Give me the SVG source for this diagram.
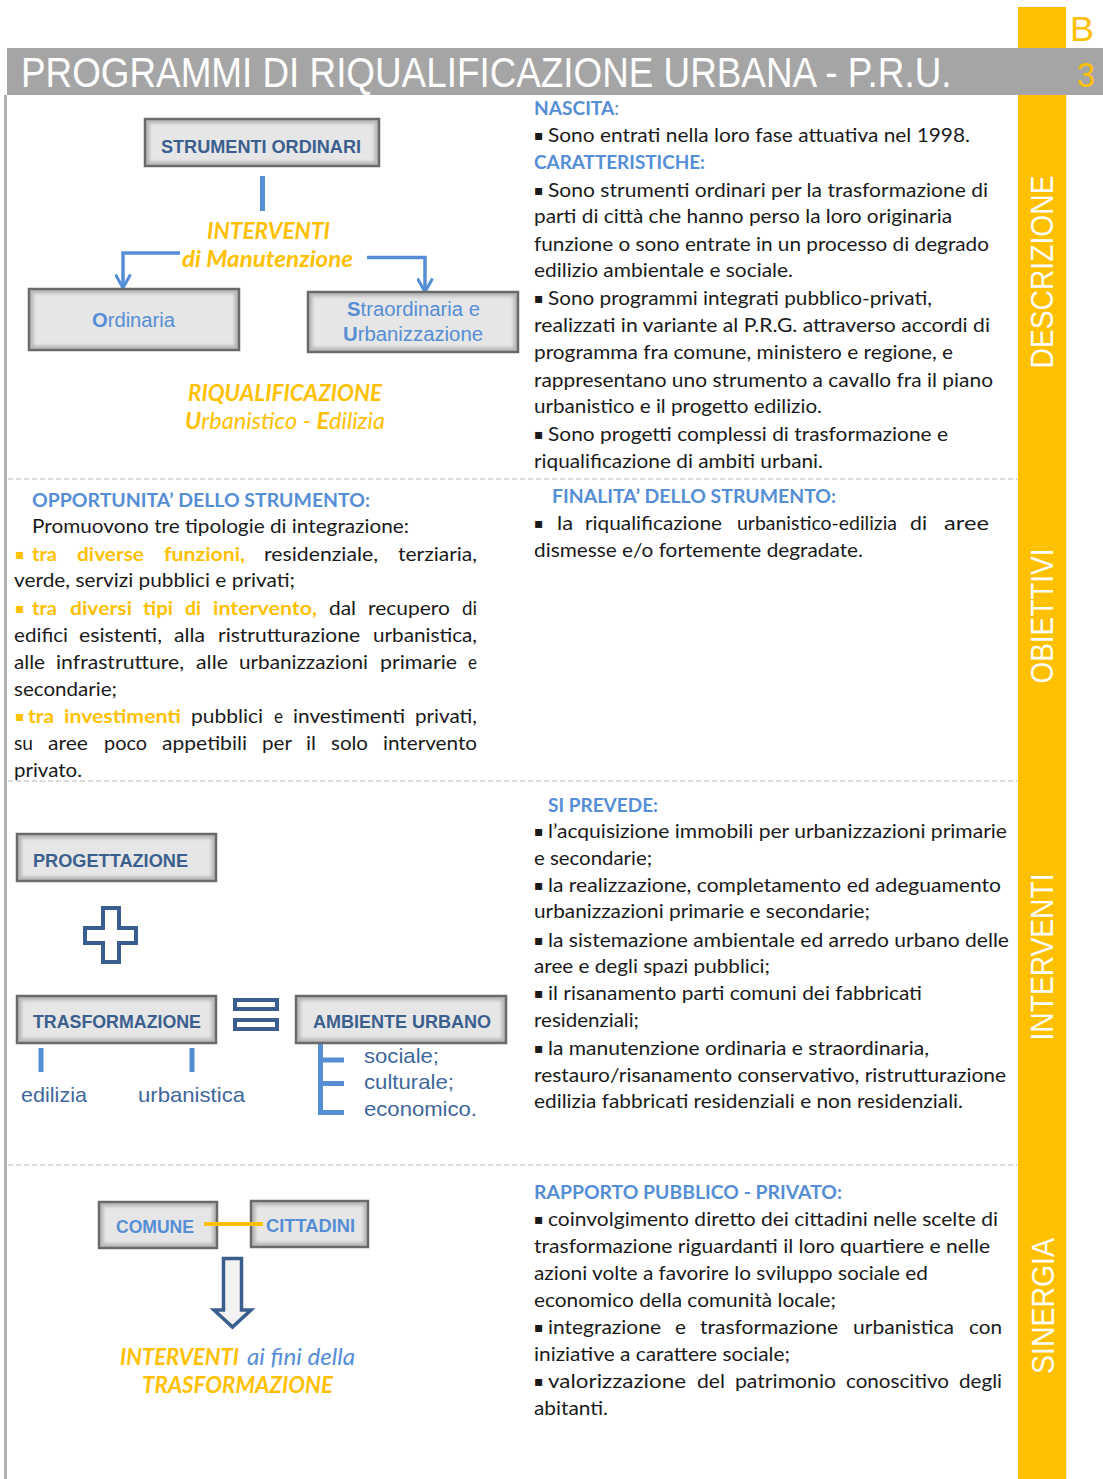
<svg xmlns="http://www.w3.org/2000/svg" width="1103" height="1479" viewBox="0 0 1103 1479">
<defs>
<filter id="soft" x="-10%" y="-30%" width="120%" height="160%"><feGaussianBlur stdDeviation="1.8"/></filter>
<marker id="chev" markerUnits="userSpaceOnUse" viewBox="0 0 17 17" refX="15" refY="8.5" markerWidth="17" markerHeight="17" orient="auto">
<path d="M1.5,1 L15,8.5 L1.5,16" fill="none" stroke="#558ED5" stroke-width="3"/>
</marker>
</defs>
<style>
.t{font-family:Lato,"Open Sans","DejaVu Sans",sans-serif;font-size:19px;fill:#1a1a1a}
.h{font-family:Lato,"Open Sans",sans-serif;font-size:19px;font-weight:bold;fill:#558ED5}
.yb{font-family:Lato,"Open Sans",sans-serif;font-size:19px;font-weight:bold;fill:#FFC000}
.b{font-family:"DejaVu Sans",sans-serif;font-size:14px;fill:#1a1a1a}
.by{font-family:"DejaVu Sans",sans-serif;font-size:14px;fill:#FFC000}
.bo{fill:#b8b8b8;stroke:#6a6a6a;stroke-width:2.5}
.bi{fill:#e6e6e6;filter:url(#soft)}
.lb{font-family:"Liberation Sans",Arial,sans-serif;font-weight:bold;font-size:18px;fill:#3a5f8f}
.lb2{font-family:"Liberation Sans",Arial,sans-serif;font-weight:bold;font-size:18px;fill:#558ED5}
.lr{font-family:"Liberation Sans",Arial,sans-serif;font-size:20px;fill:#558ED5}
.sub{font-family:"Liberation Sans",Arial,sans-serif;font-size:21px;fill:#3f679c}
.yi{font-family:Lato,"Open Sans",sans-serif;font-size:23px;font-style:italic;font-weight:bold;fill:#FFC000}
.side{font-family:"Liberation Sans",Arial,sans-serif;font-size:31px;fill:#fdfdfd}
.con{fill:none;stroke:#558ED5;stroke-width:3.5}
.sym{fill:none;stroke:#3a5f8f;stroke-width:4}
.sep{stroke:#cfcfcf;stroke-width:1.5;stroke-dasharray:5 3}
</style>
<rect width="1103" height="1479" fill="#ffffff"/>
<!-- sidebar -->
<rect x="1018" y="7" width="48" height="1472" fill="#FFC000"/>
<line x1="1066.5" y1="95" x2="1066.5" y2="1479" stroke="#f3e9d0" stroke-width="1"/>
<!-- header -->
<rect x="7" y="48" width="1096" height="47" fill="#a5a5a5"/>
<text transform="translate(21,87) scale(0.877,1)" x="0" y="0" font-family="'Liberation Sans',Arial,sans-serif" font-size="42" fill="#ffffff">PROGRAMMI DI RIQUALIFICAZIONE URBANA - P.R.U.</text>
<text x="1070" y="41" font-family="'Liberation Sans',Arial,sans-serif" font-size="35" fill="#FFC000" textLength="24" lengthAdjust="spacingAndGlyphs">B</text>
<text x="1077" y="87" font-family="'Liberation Sans',Arial,sans-serif" font-size="35" fill="#FFC000" textLength="18" lengthAdjust="spacingAndGlyphs">3</text>
<rect x="4" y="95" width="3" height="1384" fill="#b0b0b0"/>
<!-- separators -->
<line class="sep" x1="8" y1="479" x2="1018" y2="479"/>
<line class="sep" x1="8" y1="781" x2="1018" y2="781"/>
<line class="sep" x1="8" y1="1165" x2="1018" y2="1165"/>
<!-- side labels -->
<text class="side" transform="translate(1053,272) rotate(-90)" text-anchor="middle" textLength="193" lengthAdjust="spacingAndGlyphs">DESCRIZIONE</text>
<text class="side" transform="translate(1053,616) rotate(-90)" text-anchor="middle" textLength="135" lengthAdjust="spacingAndGlyphs">OBIETTIVI</text>
<text class="side" transform="translate(1053,957) rotate(-90)" text-anchor="middle" textLength="167" lengthAdjust="spacingAndGlyphs">INTERVENTI</text>
<text class="side" transform="translate(1054,1306) rotate(-90)" text-anchor="middle" textLength="136" lengthAdjust="spacingAndGlyphs">SINERGIA</text>

<!-- connectors -->
<g id="connectors">
<line x1="262.5" y1="176" x2="262.5" y2="211" stroke="#558ED5" stroke-width="5"/>
<path class="con" d="M180,253 H123 V288" marker-end="url(#chev)"/>
<path class="con" d="M367,257.5 H425 V292" marker-end="url(#chev)"/>
<line x1="41" y1="1048" x2="41" y2="1072" stroke="#558ED5" stroke-width="5"/>
<line x1="192" y1="1048" x2="192" y2="1072" stroke="#558ED5" stroke-width="5"/>
<path d="M320.5,1043 V1112 M318,1060 H344 M318,1083.5 H344 M318,1112.5 H344" fill="none" stroke="#558ED5" stroke-width="5"/>
<path d="M223.5,1258.5 H241.5 V1310 H251 L232.5,1327 L214,1310 H223.5 Z" fill="#f2f2f2" stroke="#3a5f8f" stroke-width="3.5" stroke-linejoin="miter"/>
<line x1="204" y1="1224" x2="263" y2="1224" stroke="#FFC000" stroke-width="4"/>
</g>

<!-- section 1 diagram -->
<g id="n-strumenti">
<rect class="bo" x="145" y="119" width="234" height="47"/><rect class="bi" x="149.5" y="123.5" width="225" height="38"/>
<text class="lb" x="161" y="153" textLength="200" lengthAdjust="spacingAndGlyphs">STRUMENTI ORDINARI</text>
</g>
<g id="n-interventi-manutenzione">
<text class="yi" x="207" y="239" textLength="123" lengthAdjust="spacingAndGlyphs">INTERVENTI</text>
<text class="yi" x="182" y="267" textLength="171" lengthAdjust="spacingAndGlyphs">di Manutenzione</text>
</g>
<g id="n-ordinaria">
<rect class="bo" x="29" y="289" width="210" height="61"/><rect class="bi" x="33.5" y="293.5" width="201" height="52"/>
<text class="lr" x="92" y="327" textLength="83" lengthAdjust="spacingAndGlyphs"><tspan font-weight="bold">O</tspan>rdinaria</text>
</g>
<g id="n-straordinaria">
<rect class="bo" x="308" y="292" width="210" height="60"/><rect class="bi" x="312.5" y="296.5" width="201" height="51"/>
<text class="lr" x="347" y="316" textLength="133" lengthAdjust="spacingAndGlyphs"><tspan font-weight="bold">S</tspan>traordinaria e</text>
<text class="lr" x="343" y="341" textLength="140" lengthAdjust="spacingAndGlyphs"><tspan font-weight="bold">U</tspan>rbanizzazione</text>
</g>
<g id="n-riqualificazione">
<text class="yi" x="188" y="401" textLength="194" lengthAdjust="spacingAndGlyphs">RIQUALIFICAZIONE</text>
<text class="yi" x="185" y="429" textLength="200" lengthAdjust="spacingAndGlyphs"><tspan font-weight="bold">U</tspan><tspan font-weight="normal">rbanistico - </tspan><tspan font-weight="bold">E</tspan><tspan font-weight="normal">dilizia</tspan></text>
</g>

<!-- section 1 text -->
<g id="n-descrizione">
<text class="h" x="534" y="115" textLength="85" lengthAdjust="spacingAndGlyphs">NASCITA<tspan font-weight="normal">:</tspan></text>
<text class="b" x="534" y="140">▪</text>
<text class="t" x="548" y="142" textLength="422" lengthAdjust="spacingAndGlyphs">Sono entrati nella loro fase attuativa nel 1998.</text>
<text class="h" x="534" y="169" textLength="171" lengthAdjust="spacingAndGlyphs">CARATTERISTICHE:</text>
<text class="b" x="534" y="195">▪</text>
<text class="t" x="548" y="197" textLength="440" lengthAdjust="spacingAndGlyphs">Sono strumenti ordinari per la trasformazione di</text>
<text class="t" x="534" y="223" textLength="418" lengthAdjust="spacingAndGlyphs">parti di città che hanno perso la loro originaria</text>
<text class="t" x="534" y="251" textLength="455" lengthAdjust="spacingAndGlyphs">funzione o sono entrate in un processo di degrado</text>
<text class="t" x="534" y="277" textLength="259" lengthAdjust="spacingAndGlyphs">edilizio ambientale e sociale.</text>
<text class="b" x="534" y="303">▪</text>
<text class="t" x="548" y="305" textLength="384" lengthAdjust="spacingAndGlyphs">Sono programmi integrati pubblico-privati,</text>
<text class="t" x="534" y="332" textLength="456" lengthAdjust="spacingAndGlyphs">realizzati in variante al P.R.G. attraverso accordi di</text>
<text class="t" x="534" y="359" textLength="419" lengthAdjust="spacingAndGlyphs">programma fra comune, ministero e regione, e</text>
<text class="t" x="534" y="387" textLength="459" lengthAdjust="spacingAndGlyphs">rappresentano uno strumento a cavallo fra il piano</text>
<text class="t" x="534" y="413" textLength="288" lengthAdjust="spacingAndGlyphs">urbanistico e il progetto edilizio.</text>
<text class="b" x="534" y="439">▪</text>
<text class="t" x="548" y="441" textLength="400" lengthAdjust="spacingAndGlyphs">Sono progetti complessi di trasformazione e</text>
<text class="t" x="534" y="468" textLength="289" lengthAdjust="spacingAndGlyphs">riqualificazione di ambiti urbani.</text>
</g>

<!-- section 2 left -->
<g id="n-opportunita">
<text class="h" x="32" y="507" textLength="338" lengthAdjust="spacingAndGlyphs">OPPORTUNITA’ DELLO STRUMENTO:</text>
<text class="t" x="32" y="533" textLength="377" lengthAdjust="spacingAndGlyphs">Promuovono tre tipologie di integrazione:</text>
<text class="by" x="15" y="559">▪</text>
<text class="yb" x="32" y="561" textLength="25" lengthAdjust="spacingAndGlyphs">tra</text>
<text class="yb" x="77" y="561" textLength="67" lengthAdjust="spacingAndGlyphs">diverse</text>
<text class="yb" x="164" y="561" textLength="81" lengthAdjust="spacingAndGlyphs">funzioni,</text>
<text class="t" x="264" y="561" textLength="114" lengthAdjust="spacingAndGlyphs">residenziale,</text>
<text class="t" x="398" y="561" textLength="79" lengthAdjust="spacingAndGlyphs">terziaria,</text>
<text class="t" x="14" y="587" textLength="281" lengthAdjust="spacingAndGlyphs">verde, servizi pubblici e privati;</text>
<text class="by" x="15" y="613">▪</text>
<text class="yb" x="32" y="615" textLength="25" lengthAdjust="spacingAndGlyphs">tra</text>
<text class="yb" x="70" y="615" textLength="62" lengthAdjust="spacingAndGlyphs">diversi</text>
<text class="yb" x="143" y="615" textLength="30" lengthAdjust="spacingAndGlyphs">tipi</text>
<text class="yb" x="185" y="615" textLength="16" lengthAdjust="spacingAndGlyphs">di</text>
<text class="yb" x="213" y="615" textLength="104" lengthAdjust="spacingAndGlyphs">intervento,</text>
<text class="t" x="329" y="615" textLength="27" lengthAdjust="spacingAndGlyphs">dal</text>
<text class="t" x="368" y="615" textLength="82" lengthAdjust="spacingAndGlyphs">recupero</text>
<text class="t" x="462" y="615" textLength="15" lengthAdjust="spacingAndGlyphs">di</text>
<text class="t" x="14" y="642" textLength="54" lengthAdjust="spacingAndGlyphs">edifici</text>
<text class="t" x="79" y="642" textLength="83" lengthAdjust="spacingAndGlyphs">esistenti,</text>
<text class="t" x="174" y="642" textLength="31" lengthAdjust="spacingAndGlyphs">alla</text>
<text class="t" x="218" y="642" textLength="142" lengthAdjust="spacingAndGlyphs">ristrutturazione</text>
<text class="t" x="373" y="642" textLength="104" lengthAdjust="spacingAndGlyphs">urbanistica,</text>
<text class="t" x="14" y="669" textLength="31" lengthAdjust="spacingAndGlyphs">alle</text>
<text class="t" x="56" y="669" textLength="128" lengthAdjust="spacingAndGlyphs">infrastrutture,</text>
<text class="t" x="196" y="669" textLength="32" lengthAdjust="spacingAndGlyphs">alle</text>
<text class="t" x="239" y="669" textLength="129" lengthAdjust="spacingAndGlyphs">urbanizzazioni</text>
<text class="t" x="380" y="669" textLength="77" lengthAdjust="spacingAndGlyphs">primarie</text>
<text class="t" x="468" y="669" textLength="9" lengthAdjust="spacingAndGlyphs">e</text>
<text class="t" x="14" y="696" textLength="103" lengthAdjust="spacingAndGlyphs">secondarie;</text>
<text class="by" x="15" y="721">▪</text>
<text class="yb" x="28" y="723" textLength="26" lengthAdjust="spacingAndGlyphs">tra</text>
<text class="yb" x="64" y="723" textLength="117" lengthAdjust="spacingAndGlyphs">investimenti</text>
<text class="t" x="191" y="723" textLength="72" lengthAdjust="spacingAndGlyphs">pubblici</text>
<text class="t" x="274" y="723" textLength="9" lengthAdjust="spacingAndGlyphs">e</text>
<text class="t" x="293" y="723" textLength="112" lengthAdjust="spacingAndGlyphs">investimenti</text>
<text class="t" x="415" y="723" textLength="62" lengthAdjust="spacingAndGlyphs">privati,</text>
<text class="t" x="14" y="750" textLength="19" lengthAdjust="spacingAndGlyphs">su</text>
<text class="t" x="48" y="750" textLength="40" lengthAdjust="spacingAndGlyphs">aree</text>
<text class="t" x="104" y="750" textLength="43" lengthAdjust="spacingAndGlyphs">poco</text>
<text class="t" x="162" y="750" textLength="85" lengthAdjust="spacingAndGlyphs">appetibili</text>
<text class="t" x="262" y="750" textLength="30" lengthAdjust="spacingAndGlyphs">per</text>
<text class="t" x="306" y="750" textLength="10" lengthAdjust="spacingAndGlyphs">il</text>
<text class="t" x="331" y="750" textLength="37" lengthAdjust="spacingAndGlyphs">solo</text>
<text class="t" x="383" y="750" textLength="94" lengthAdjust="spacingAndGlyphs">intervento</text>
<text class="t" x="14" y="777" textLength="68" lengthAdjust="spacingAndGlyphs">privato.</text>
</g>

<!-- section 2 right -->
<g id="n-finalita">
<text class="h" x="552" y="503" textLength="284" lengthAdjust="spacingAndGlyphs">FINALITA’ DELLO STRUMENTO:</text>
<text class="b" x="534" y="528">▪</text>
<text class="t" x="557" y="530" textLength="16" lengthAdjust="spacingAndGlyphs">la</text>
<text class="t" x="585" y="530" textLength="137" lengthAdjust="spacingAndGlyphs">riqualificazione</text>
<text class="t" x="737" y="530" textLength="160" lengthAdjust="spacingAndGlyphs">urbanistico-edilizia</text>
<text class="t" x="910" y="530" textLength="17" lengthAdjust="spacingAndGlyphs">di</text>
<text class="t" x="944" y="530" textLength="45" lengthAdjust="spacingAndGlyphs">aree</text>
<text class="t" x="534" y="557" textLength="329" lengthAdjust="spacingAndGlyphs">dismesse e/o fortemente degradate.</text>
</g>

<!-- section 3 diagram -->
<g id="n-progettazione">
<rect class="bo" x="17" y="834" width="199" height="47"/><rect class="bi" x="21.5" y="838.5" width="190" height="38"/>
<text class="lb" x="33" y="867" textLength="155" lengthAdjust="spacingAndGlyphs">PROGETTAZIONE</text>
</g>
<path class="sym" d="M103,908 H119 V928 H136 V943 H119 V962 H103 V943 H85 V928 H103 Z"/>
<g id="n-trasformazione">
<rect class="bo" x="17" y="996" width="199" height="47"/><rect class="bi" x="21.5" y="1000.5" width="190" height="38"/>
<text class="lb" x="33" y="1028" textLength="168" lengthAdjust="spacingAndGlyphs">TRASFORMAZIONE</text>
</g>
<rect class="sym" x="235" y="1000" width="42" height="9"/>
<rect class="sym" x="235" y="1020" width="42" height="9"/>
<g id="n-ambiente">
<rect class="bo" x="296" y="996" width="210" height="47"/><rect class="bi" x="300.5" y="1000.5" width="201" height="38"/>
<text class="lb" x="313" y="1028" textLength="178" lengthAdjust="spacingAndGlyphs">AMBIENTE URBANO</text>
</g>
<g id="n-edilizia"><text class="sub" x="21" y="1102" textLength="66" lengthAdjust="spacingAndGlyphs">edilizia</text></g>
<g id="n-urbanistica"><text class="sub" x="138" y="1102" textLength="107" lengthAdjust="spacingAndGlyphs">urbanistica</text></g>
<g id="n-ambiti">
<text class="sub" x="364" y="1063" textLength="75" lengthAdjust="spacingAndGlyphs">sociale;</text>
<text class="sub" x="364" y="1089" textLength="90" lengthAdjust="spacingAndGlyphs">culturale;</text>
<text class="sub" x="364" y="1116" textLength="113" lengthAdjust="spacingAndGlyphs">economico.</text>
</g>

<!-- section 3 right -->
<g id="n-siprevede">
<text class="h" x="548" y="812" textLength="110" lengthAdjust="spacingAndGlyphs">SI PREVEDE:</text>
<text class="b" x="534" y="836">▪</text>
<text class="t" x="548" y="838" textLength="459" lengthAdjust="spacingAndGlyphs">l’acquisizione immobili per urbanizzazioni primarie</text>
<text class="t" x="534" y="865" textLength="118" lengthAdjust="spacingAndGlyphs">e secondarie;</text>
<text class="b" x="534" y="890">▪</text>
<text class="t" x="548" y="892" textLength="453" lengthAdjust="spacingAndGlyphs">la realizzazione, completamento ed adeguamento</text>
<text class="t" x="534" y="918" textLength="336" lengthAdjust="spacingAndGlyphs">urbanizzazioni primarie e secondarie;</text>
<text class="b" x="534" y="945">▪</text>
<text class="t" x="548" y="947" textLength="461" lengthAdjust="spacingAndGlyphs">la sistemazione ambientale ed arredo urbano delle</text>
<text class="t" x="534" y="973" textLength="236" lengthAdjust="spacingAndGlyphs">aree e degli spazi pubblici;</text>
<text class="b" x="534" y="998">▪</text>
<text class="t" x="548" y="1000" textLength="374" lengthAdjust="spacingAndGlyphs">il risanamento parti comuni dei fabbricati</text>
<text class="t" x="534" y="1027" textLength="105" lengthAdjust="spacingAndGlyphs">residenziali;</text>
<text class="b" x="534" y="1053">▪</text>
<text class="t" x="548" y="1055" textLength="381" lengthAdjust="spacingAndGlyphs">la manutenzione ordinaria e straordinaria,</text>
<text class="t" x="534" y="1082" textLength="472" lengthAdjust="spacingAndGlyphs">restauro/risanamento conservativo, ristrutturazione</text>
<text class="t" x="534" y="1108" textLength="429" lengthAdjust="spacingAndGlyphs">edilizia fabbricati residenziali e non residenziali.</text>
</g>

<!-- section 4 diagram -->
<g id="n-comune">
<rect class="bo" x="99" y="1202" width="118" height="46"/><rect class="bi" x="103.5" y="1206.5" width="109" height="37"/>
<text class="lb2" x="116" y="1233" textLength="78" lengthAdjust="spacingAndGlyphs">COMUNE</text>
</g>
<g id="n-cittadini">
<rect class="bo" x="251" y="1201" width="117" height="46"/><rect class="bi" x="255.5" y="1205.5" width="108" height="37"/>
<text class="lb2" x="266" y="1232" textLength="89" lengthAdjust="spacingAndGlyphs">CITTADINI</text>
</g>
<line x1="204" y1="1224" x2="263" y2="1224" stroke="#FFC000" stroke-width="4"/>
<g id="n-interventi-trasf">
<text class="yi" x="120" y="1365" textLength="119" lengthAdjust="spacingAndGlyphs">INTERVENTI</text>
<text class="yi" x="247" y="1365" style="fill:#558ED5;font-weight:normal" textLength="108" lengthAdjust="spacingAndGlyphs">ai fini della</text>
<text class="yi" x="142" y="1393" textLength="191" lengthAdjust="spacingAndGlyphs">TRASFORMAZIONE</text>
</g>

<!-- section 4 right -->
<g id="n-rapporto">
<text class="h" x="534" y="1199" textLength="308" lengthAdjust="spacingAndGlyphs">RAPPORTO PUBBLICO - PRIVATO:</text>
<text class="b" x="534" y="1224">▪</text>
<text class="t" x="548" y="1226" textLength="450" lengthAdjust="spacingAndGlyphs">coinvolgimento diretto dei cittadini nelle scelte di</text>
<text class="t" x="534" y="1253" textLength="456" lengthAdjust="spacingAndGlyphs">trasformazione riguardanti il loro quartiere e nelle</text>
<text class="t" x="534" y="1280" textLength="394" lengthAdjust="spacingAndGlyphs">azioni volte a favorire lo sviluppo sociale ed</text>
<text class="t" x="534" y="1307" textLength="302" lengthAdjust="spacingAndGlyphs">economico della comunità locale;</text>
<text class="b" x="534" y="1332">▪</text>
<text class="t" x="548" y="1334" textLength="113" lengthAdjust="spacingAndGlyphs">integrazione</text>
<text class="t" x="675" y="1334" textLength="11" lengthAdjust="spacingAndGlyphs">e</text>
<text class="t" x="700" y="1334" textLength="138" lengthAdjust="spacingAndGlyphs">trasformazione</text>
<text class="t" x="853" y="1334" textLength="101" lengthAdjust="spacingAndGlyphs">urbanistica</text>
<text class="t" x="969" y="1334" textLength="33" lengthAdjust="spacingAndGlyphs">con</text>
<text class="t" x="534" y="1361" textLength="256" lengthAdjust="spacingAndGlyphs">iniziative a carattere sociale;</text>
<text class="b" x="534" y="1386">▪</text>
<text class="t" x="548" y="1388" textLength="138" lengthAdjust="spacingAndGlyphs">valorizzazione</text>
<text class="t" x="697" y="1388" textLength="28" lengthAdjust="spacingAndGlyphs">del</text>
<text class="t" x="735" y="1388" textLength="101" lengthAdjust="spacingAndGlyphs">patrimonio</text>
<text class="t" x="846" y="1388" textLength="103" lengthAdjust="spacingAndGlyphs">conoscitivo</text>
<text class="t" x="959" y="1388" textLength="43" lengthAdjust="spacingAndGlyphs">degli</text>
<text class="t" x="534" y="1415" textLength="74" lengthAdjust="spacingAndGlyphs">abitanti.</text>
</g>
</svg>
